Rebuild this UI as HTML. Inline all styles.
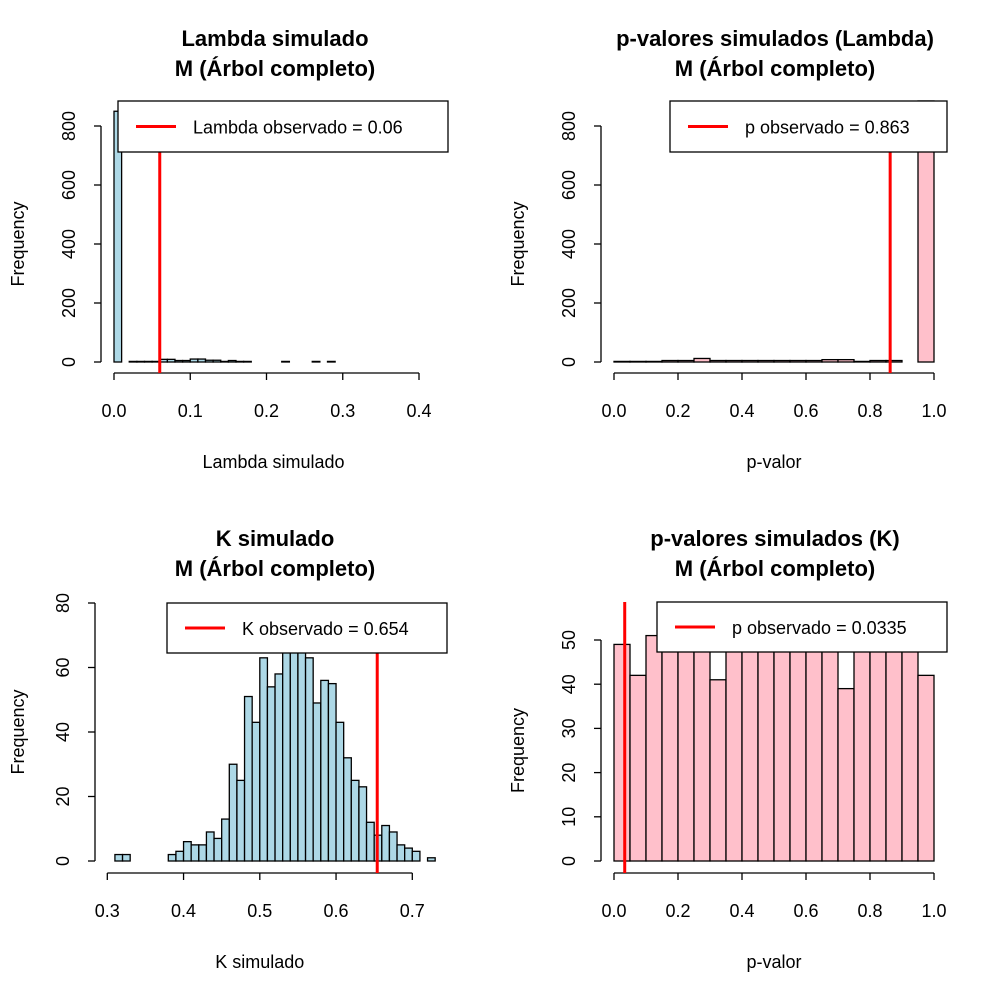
<!DOCTYPE html>
<html><head><meta charset="utf-8"><style>
body{margin:0;background:#fff}
svg{font-family:"Liberation Sans",sans-serif}
</style></head><body>
<svg id="s" width="1000" height="1000" xmlns="http://www.w3.org/2000/svg"></svg>
<script>
const lambdaCounts=[850,0,2,2,2,2,9,9,5,5,10,10,6,6,2,5,2,2,0,0,0,0,2,0,0,0,2,0,2,0,0,0,0,0,0,0,0,0,0,0,0,0];
const pLambdaCounts=[2,2,2,5,5,12,5,5,5,5,5,5,5,8,8,2,5,5,0,900];
const kCounts=[2,2,0,0,0,0,0,2,3,6,5,5,9,7,13,30,25,51,43,63,54,58,67,70,68,63,49,56,55,43,32,25,23,12,8,11,9,5,4,3,0,1];
const pKCounts=[49,42,51,50,52,49,41,50,49,52,50,51,50,53,39,51,52,50,53,42];
const panels=[
 {name:'lambda',t1:'Lambda simulado',xl:'Lambda simulado',cx:275,ty:38,counts:lambdaCounts,x0:0,bw:0.01,fill:'#ADD8E6',
  xs:[0,0.4],xp:[114,419],ys:[0,800],yp:[362,126],xt:[0,0.1,0.2,0.3,0.4],xtl:['0.0','0.1','0.2','0.3','0.4'],yt:[0,200,400,600,800],
  ax:101,axy:373,obs:0.06,leg:'Lambda observado = 0.06',lb:[118,101,330,51],top:101,bot:373},
 {name:'p-lambda',t1:'p-valores simulados (Lambda)',xl:'p-valor',cx:775,ty:38,counts:pLambdaCounts,x0:0,bw:0.05,fill:'#FFC0CB',
  xs:[0,1],xp:[614,934],ys:[0,800],yp:[362,126],xt:[0,0.2,0.4,0.6,0.8,1],xtl:['0.0','0.2','0.4','0.6','0.8','1.0'],yt:[0,200,400,600,800],
  ax:601,axy:373,obs:0.863,leg:'p observado = 0.863',lb:[670,101,277,51],top:101,bot:373},
 {name:'k',t1:'K simulado',xl:'K simulado',cx:275,ty:538,counts:kCounts,x0:0.31,bw:0.01,fill:'#ADD8E6',
  xs:[0.3,0.7],xp:[107.3,412.3],ys:[0,80],yp:[861,603],xt:[0.3,0.4,0.5,0.6,0.7],xtl:['0.3','0.4','0.5','0.6','0.7'],yt:[0,20,40,60,80],
  ax:95,axy:873,obs:0.654,leg:'K observado = 0.654',lb:[167,603,280,50],top:603,bot:873},
 {name:'p-k',t1:'p-valores simulados (K)',xl:'p-valor',cx:775,ty:538,counts:pKCounts,x0:0,bw:0.05,fill:'#FFC0CB',
  xs:[0,1],xp:[614,934],ys:[0,50],yp:[861,640],xt:[0,0.2,0.4,0.6,0.8,1],xtl:['0.0','0.2','0.4','0.6','0.8','1.0'],yt:[0,10,20,30,40,50],
  ax:601,axy:873,obs:0.0335,leg:'p observado = 0.0335',lb:[657,602,290,50],top:602,bot:873}
];
const s=document.getElementById('s');
function el(tag,a,txt){const e=document.createElementNS('http://www.w3.org/2000/svg',tag);for(const k in a)e.setAttribute(k,a[k]);if(txt!==undefined)e.textContent=txt;s.appendChild(e);return e;}
panels.forEach(p=>{
 const X=v=>p.xp[0]+(v-p.xs[0])*(p.xp[1]-p.xp[0])/(p.xs[1]-p.xs[0]);
 const Y=v=>p.yp[0]+(v-p.ys[0])*(p.yp[1]-p.yp[0])/(p.ys[1]-p.ys[0]);
 let e=el('text',{x:p.cx,y:p.ty+8,'text-anchor':'middle','font-size':22,'font-weight':'bold'},p.t1);
 
 
 e=el('text',{x:p.cx,y:p.ty+38,'text-anchor':'middle','font-size':22,'font-weight':'bold'},'M (Árbol completo)');
 
 
 const ym=(p.yp[0]+p.yp[1])/2;
 e=el('text',{x:0,y:0,transform:`translate(24,${ym}) rotate(-90)`,'text-anchor':'middle','font-size':18},'Frequency');
 if(p.ax>500)e.setAttribute('transform',`translate(524,${ym}) rotate(-90)`);
 
 
 e=el('text',{x:(p.xp[0]+p.xp[1])/2+ (p.name=='lambda'?7:0),y:p.axy+95,'text-anchor':'middle','font-size':18},p.xl);
 
 
 p.counts.forEach((c,i)=>{
  if(c<=0)return;
  const x1=X(p.x0+i*p.bw),x2=X(p.x0+(i+1)*p.bw);
  let y=Y(c); if(y<p.top)y=p.top;
  const b=el('rect',{x:x1,y:y,width:x2-x1,height:Y(0)-y,fill:p.fill,stroke:'#000','stroke-width':1.3});
  
  
 });
 el('line',{x1:p.ax,x2:p.ax,y1:Y(p.yt[0]),y2:Y(p.yt[p.yt.length-1]),stroke:'#000','stroke-width':1.3});
 p.yt.forEach(v=>{
  el('line',{x1:p.ax-7,x2:p.ax,y1:Y(v),y2:Y(v),stroke:'#000','stroke-width':1.3});
  const t=el('text',{x:0,y:0,transform:`translate(${p.ax-26},${Y(v)}) rotate(-90)`,'text-anchor':'middle','font-size':18},String(v));
  
  
 });
 el('line',{x1:X(p.xt[0]),x2:X(p.xt[p.xt.length-1]),y1:p.axy,y2:p.axy,stroke:'#000','stroke-width':1.3});
 p.xt.forEach((v,i)=>{
  el('line',{x1:X(v),x2:X(v),y1:p.axy,y2:p.axy+7,stroke:'#000','stroke-width':1.3});
  const t=el('text',{x:X(v),y:p.axy+44,'text-anchor':'middle','font-size':18},p.xtl[i]);
  
  
 });
 e=el('line',{x1:X(p.obs),x2:X(p.obs),y1:p.top,y2:p.bot,stroke:'#FF0000','stroke-width':3});
 
 
 const [lx,ly,lw,lh]=p.lb;
 e=el('rect',{x:lx,y:ly,width:lw,height:lh,fill:'#fff',stroke:'#000','stroke-width':1.3});
 
 
 el('line',{x1:lx+18,x2:lx+58,y1:ly+lh/2,y2:ly+lh/2,stroke:'#FF0000','stroke-width':3});
 e=el('text',{x:lx+75,y:ly+lh/2+7,'font-size':18},p.leg);
 
 
});
</script>
</body></html>
